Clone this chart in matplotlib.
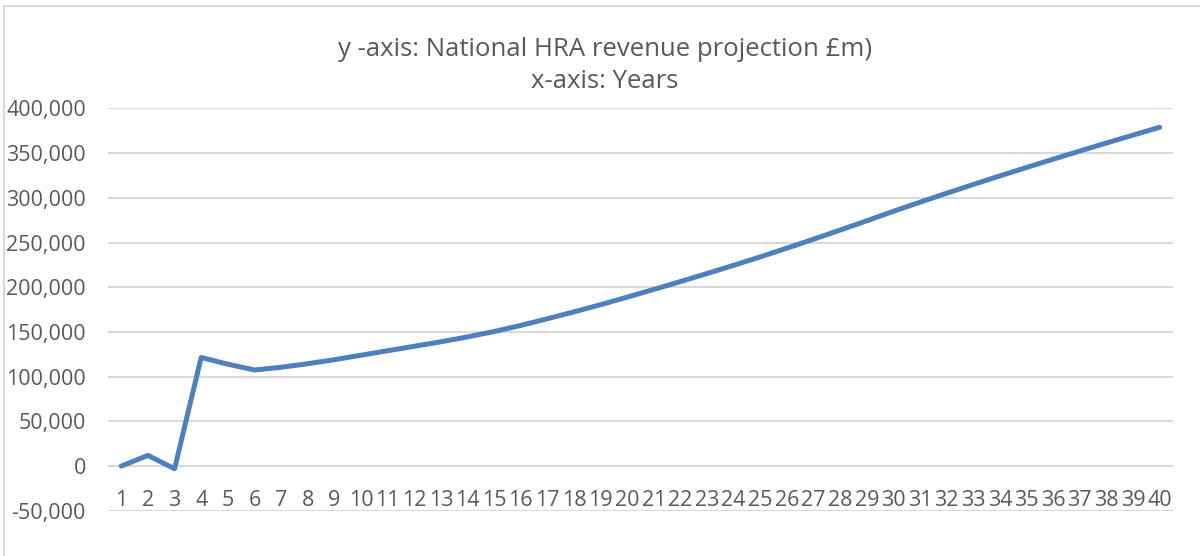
import matplotlib
matplotlib.use("Agg")
import matplotlib.pyplot as plt
from matplotlib.lines import Line2D
from matplotlib.ticker import FuncFormatter

years = list(range(1, 41))
revenue = [0, 12000, -3000, 121500, 114000, 107500, 110500, 114500, 119000, 124000,
           129000, 134000, 139000, 144500, 150500, 157300, 164800, 172500, 180500, 189000,
           197600, 206400, 215400, 224600, 234000, 243800, 253800, 264000, 274400, 285000,
           295200, 305200, 315000, 324600, 334000, 343300, 352400, 361400, 370200, 379000]
y_ticks = list(range(-50000, 400001, 50000))
title = "y -axis: National HRA revenue projection £m)\nx-axis: Years"

plt.rcParams['font.family'] = ['Open Sans', 'DejaVu Sans']
text_col = "#595959"
grid_col = "#d9d9d9"

fig = plt.figure(figsize=(12, 5.56), dpi=100)
ax = fig.add_axes([0.09, 0.0813, 0.8875, 0.7236])

ax.plot(years, revenue, color="#4e80bd", lw=3.6, solid_capstyle="round", solid_joinstyle="round", zorder=3)

ax.set_xlim(0.5, 40.5)
ax.set_ylim(-50000, 400000)
ax.set_yticks(y_ticks)
ax.yaxis.set_major_formatter(FuncFormatter(lambda v, p: f"{int(v):,}"))
ax.set_xticks(years)
ax.set_xticklabels([str(y) for y in years])

ax.grid(axis="y", color=grid_col, lw=1.5)
ax.set_axisbelow(True)
for s in ["top", "right", "left"]:
    ax.spines[s].set_visible(False)
ax.spines["bottom"].set_position(("data", 0))
ax.spines["bottom"].set_visible(False)

ax.tick_params(axis="y", length=0, pad=16, labelsize=15.5, labelcolor=text_col)
ax.tick_params(axis="x", length=0, pad=17, labelsize=15.5, labelcolor=text_col)

fig.text(0.504, 0.882, title, ha="center", va="center", fontsize=18.5, color=text_col, linespacing=1.38)

# chart area border (top and left edges visible)
fig.add_artist(Line2D([0.0035, 0.0035], [0, 0.989], color=grid_col, lw=1.5))
fig.add_artist(Line2D([0.0035, 1.0], [0.989, 0.989], color=grid_col, lw=1.5))

fig.savefig("out.png", dpi=100, facecolor="white")
plt.close(fig)
